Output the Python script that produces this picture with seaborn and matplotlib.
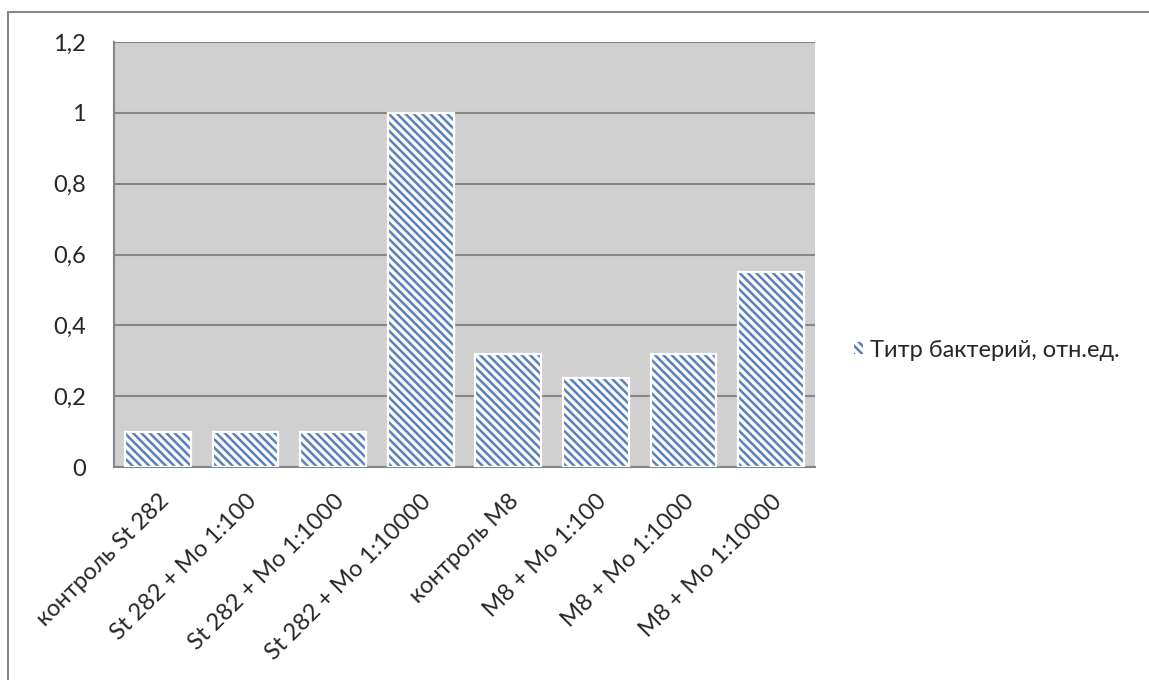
import matplotlib
matplotlib.use('Agg')
import matplotlib.pyplot as plt
from matplotlib.patches import Patch
from matplotlib.lines import Line2D
import numpy as np
import pandas as pd
import seaborn as sns

# data
categories = ['контроль St 282', 'St 282 + Mo 1:100', 'St 282 + Mo 1:1000',
              'St 282 + Mo 1:10000', 'контроль M8', 'M8 + Mo 1:100',
              'M8 + Mo 1:1000', 'M8 + Mo 1:10000']
titre = [0.1, 0.1, 0.1, 1.0, 0.32, 0.25, 0.32, 0.55]
series_name = 'Титр бактерий, отн.ед.'
yticks = [0, 0.2, 0.4, 0.6, 0.8, 1.0, 1.2]
ytick_labels = ['0', '0,2', '0,4', '0,6', '0,8', '1', '1,2']

df = pd.DataFrame({'cat': categories, 'val': titre})

sns.set_style('white')
plt.rcParams['font.family'] = ['Lato', 'Open Sans', 'DejaVu Sans']
plt.rcParams['hatch.linewidth'] = 1.8

blue = '#5A80BA'
grey = '#868686'
fs = 17

fig = plt.figure(figsize=(11.49, 6.8), dpi=100)
ax = fig.add_axes([0.0992, 0.3132, 0.6101, 0.625])
ax.set_facecolor('#D0D0D0')

# hatched bars, then white outline on top
sns.barplot(data=df, x='cat', y='val', ax=ax, color='white', width=0.75,
            edgecolor=blue, linewidth=0, hatch='\\\\\\\\', zorder=3)
for p in ax.patches:
    p.set_facecolor('white')
sns.barplot(data=df, x='cat', y='val', ax=ax, fill=False, color='white',
            width=0.75, linewidth=1.6, zorder=4)

ax.set_ylim(0, 1.2)
ax.set_xlim(-0.5, len(categories) - 0.5)
ax.set_yticks(yticks)
ax.set_yticklabels(ytick_labels, fontsize=fs)
ax.yaxis.grid(True, color=grey, linewidth=1.5, zorder=1)
ax.set_axisbelow(True)

ax.set_xticks(range(len(categories)))
ax.set_xticklabels(categories, rotation=45, ha='right', rotation_mode='anchor',
                   fontsize=fs)
ax.set_xticks(np.arange(-0.5, len(categories)), minor=True)
ax.tick_params(axis='x', which='major', length=0, pad=17)
ax.tick_params(axis='x', which='minor', length=8, width=1.3, color=grey, direction='out')
ax.tick_params(axis='y', length=8, width=1.3, color=grey, direction='out', pad=12)
ax.set_xlabel('')
ax.set_ylabel('')

for s in ['top', 'right']:
    ax.spines[s].set_visible(False)
for s in ['left', 'bottom']:
    ax.spines[s].set_color(grey)
    ax.spines[s].set_linewidth(1.5)

handle = Patch(facecolor='white', edgecolor=blue, hatch='\\\\\\\\', linewidth=0)
ax.legend([handle], [series_name], loc='center left', bbox_to_anchor=(1.055, 0.275),
          frameon=False, fontsize=fs, handlelength=0.4, handleheight=0.4,
          handletextpad=0.3, borderaxespad=0, borderpad=0)

# outer chart frame (only top and left edges are visible)
fig.add_artist(Line2D([8 / 1149, 8 / 1149], [0, 1 - 12 / 680],
                      transform=fig.transFigure, color=grey, linewidth=1.5))
fig.add_artist(Line2D([8 / 1149, 1], [1 - 12 / 680, 1 - 12 / 680],
                      transform=fig.transFigure, color=grey, linewidth=1.5))

fig.savefig('out.png', dpi=100)
